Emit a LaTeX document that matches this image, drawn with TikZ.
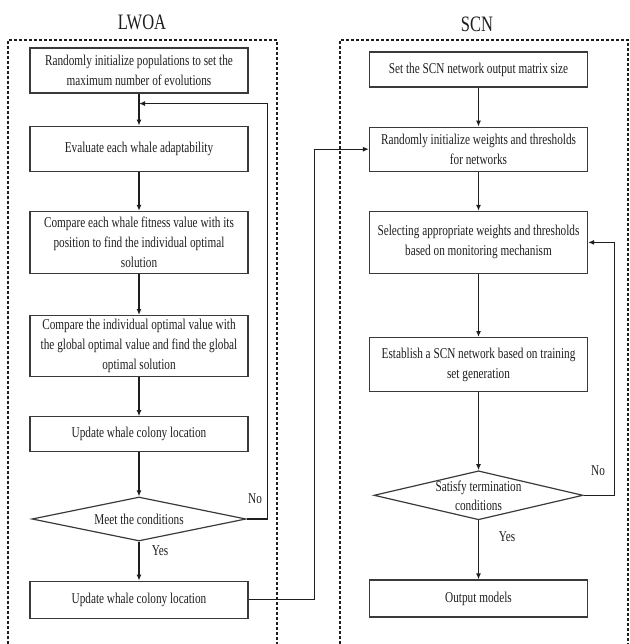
\documentclass[tikz,border=0pt]{standalone}
\usepackage{fontspec}
\setmainfont{Liberation Serif}[FakeStretch=0.75]
\usepackage{tikz}
\usetikzlibrary{arrows.meta,positioning,shapes.geometric}
\definecolor{FlowInk}{HTML}{1E1E1E}
\definecolor{FlowGrey}{HTML}{3A3A3A}

\begin{document}
\begin{tikzpicture}[
  x=1pt, y=1pt,
  node distance=39pt,
  box/.style={draw=FlowGrey, line width=1.2pt, minimum width=218pt, align=center, inner sep=2pt, text=FlowInk, font=\fontsize{15}{20}\selectfont},
  decision/.style={draw=FlowGrey, line width=1.2pt, diamond, inner sep=0pt, minimum width=214pt, minimum height=44pt},
  groupframe/.style={draw=FlowInk, dashed, dash pattern=on 3pt off 2pt, line width=1.1pt},
  heading/.style={text=FlowInk, font=\fontsize{22}{22}\selectfont},
  answer/.style={text=FlowInk, align=center, font=\fontsize{15}{19}\selectfont},
  arrow/.style={-{Latex[length=6pt,width=5pt]}, line width=1.2pt, draw=FlowInk}
]
  \useasboundingbox (0,0) rectangle (629,-644);

  % two dashed groups, open at the bottom
  \draw[groupframe] (8,-644) |- (277,-40) -- (277,-644);
  \draw[groupframe] (340,-644) |- (628,-40) -- (628,-644);
  \node[heading] (lwoa) at (142,-22) {LWOA};
  \node[heading] (scn) at (477,-24) {SCN};

  % LWOA column
  \node[box, minimum height=45pt] (init) at (139,-70.5) {Randomly initialize populations to set the\\maximum number of evolutions};
  \node[box, minimum height=45pt, below=32pt of init] (evaluate) {Evaluate each whale adaptability};
  \node[box, minimum height=62pt, below=of evaluate] (compare) {Compare each whale fitness value with its\\position to find the individual optimal\\solution};
  \node[box, minimum height=61pt, below=41pt of compare] (globalbest) {Compare the individual optimal value with\\the global optimal value and find the global\\optimal solution};
  \node[box, minimum height=35pt, below=of globalbest] (update) {Update whale colony location};
  \node[decision, below=44pt of update, label={[answer]center:Meet the conditions}] (meet) {};
  \node[box, minimum height=37pt, below=of meet] (final) {Update whale colony location};

  \draw[arrow] (init) -- (evaluate);
  \draw[arrow] (evaluate) -- (compare);
  \draw[arrow] (compare) -- (globalbest);
  \draw[arrow] (globalbest) -- (update);
  \draw[arrow] (update) -- (meet);
  \draw[arrow] (meet) -- (final);
  \coordinate[below=10pt of init] (rejoin);
  \draw[arrow] (meet.east) -- ++(21,0) |- (rejoin);
  \node[answer] (nomeet) at (255,-499) {No};
  \node[answer] (yesmeet) at (160,-551) {Yes};

  % SCN column
  \node[box, minimum height=35pt] (matrixsize) at (478.5,-69.5) {Set the SCN network output matrix size};
  \node[box, minimum height=44pt, below=of matrixsize] (initweights) {Randomly initialize weights and thresholds\\for networks};
  \node[box, minimum height=62pt, below=of initweights] (select) {Selecting appropriate weights and thresholds\\based on monitoring mechanism};
  \node[box, minimum height=54pt, below=63pt of select] (establish) {Establish a SCN network based on training\\set generation};
  \node[decision, minimum width=209pt, minimum height=49pt, below=78pt of establish,
        label={[answer]center:Satisfy termination\\conditions}] (satisfy) {};
  \node[box, minimum height=37pt, below=59pt of satisfy] (output) {Output models};

  \draw[arrow] (matrixsize) -- (initweights);
  \draw[arrow] (initweights) -- (select);
  \draw[arrow] (select) -- (establish);
  \draw[arrow] (establish) -- (satisfy);
  \draw[arrow] (satisfy) -- (output);
  \draw[arrow] (satisfy.east) -- ++(31,0) |- (select.east);
  \node[answer] (nosatisfy) at (598,-471) {No};
  \node[answer] (yessatisfy) at (507,-537) {Yes};

  % hand-over between the groups
  \draw[arrow] (final.east) -- ++(66,0) |- (initweights.west);
\end{tikzpicture}
\end{document}
